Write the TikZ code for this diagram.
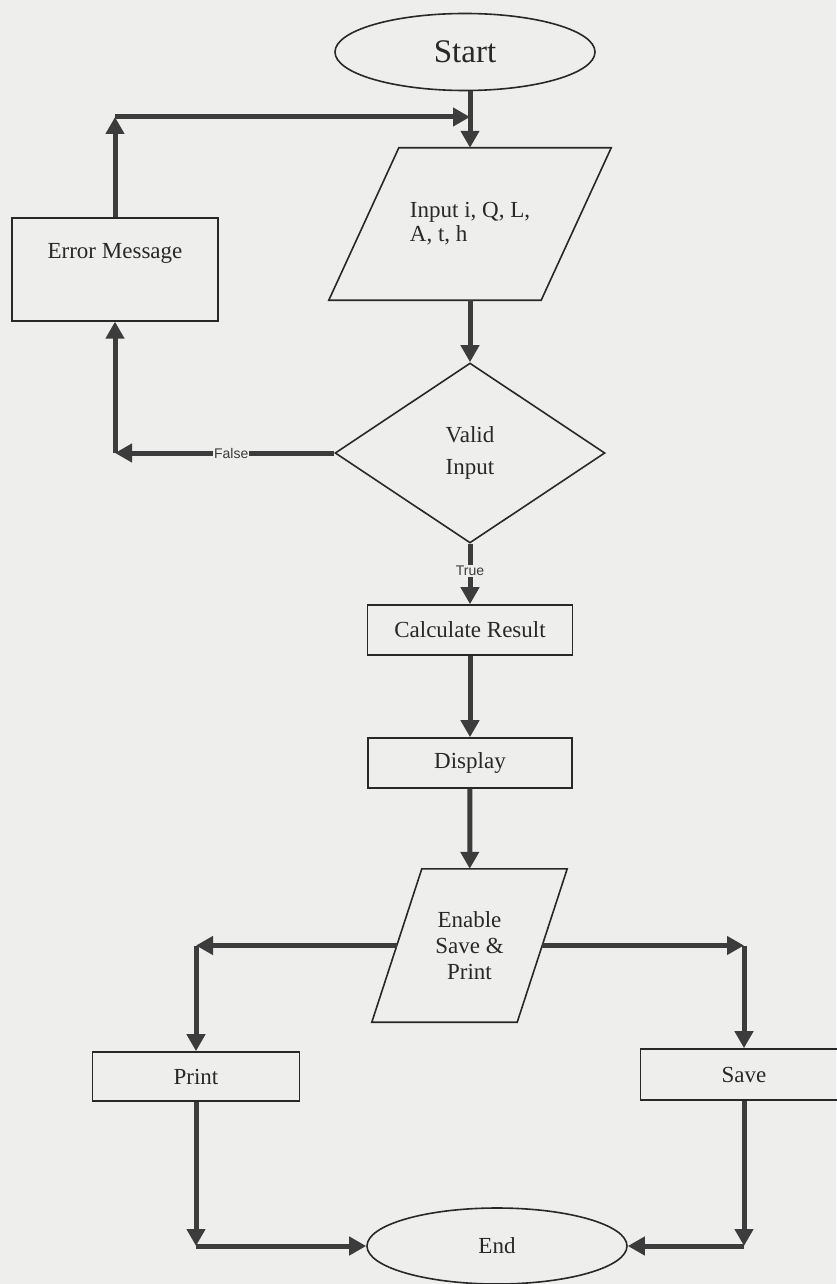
\documentclass[tikz,border=0pt]{standalone}
\usepackage{fontspec}
\setmainfont{Liberation Serif}
\newfontfamily\lblfont{Liberation Sans}
\usetikzlibrary{shapes.geometric,arrows.meta}
\definecolor{bg}{RGB}{238,238,236}
\definecolor{ln}{RGB}{60,60,60}
\definecolor{ol}{RGB}{40,40,40}
\begin{document}
\begin{tikzpicture}[x=1pt,y=-1pt,
  box/.style={draw=ol,line width=1.6pt,rectangle,inner sep=0pt,text=ol,font=\fontsize{23}{27}\selectfont},
  term/.style={box,ellipse},
  para/.style={rectangle,inner sep=0pt,text=ol,font=\fontsize{23}{27}\selectfont},
  outline/.style={draw=ol,line width=1.6pt,line join=miter},
  dec/.style={box,diamond},
  arr/.style={draw=ln,line width=5pt,-{Triangle[width=18pt,length=17pt]}},
  lbl/.style={font=\lblfont\fontsize{14}{16}\selectfont,fill=bg,inner sep=1pt,text=ln}
]
\fill[bg] (0,0) rectangle (836,1284);
\useasboundingbox (0,0) rectangle (836,1284);

\node[term,minimum width=260pt,minimum height=77pt,font=\fontsize{33}{38}\selectfont] (start) at (465,52) {Start};
\node[para,minimum width=282pt,minimum height=152pt,align=left,font=\fontsize{23}{24}\selectfont] (input) at (470,224) {Input i, Q, L,\\A, t, h};
\draw[outline] (input.south west) -- ([xshift=-70pt]input.south east) -- (input.north east) -- ([xshift=70pt]input.north west) -- cycle;
\node[dec,minimum width=270pt,minimum height=180pt,align=center,font=\fontsize{23}{32}\selectfont] (valid) at (470,453) {Valid\\Input};
\node[box,minimum width=206pt,text height=41pt,text depth=62pt,anchor=north] (err) at (115,217) {Error Message};
\node[box,minimum width=205pt,minimum height=50pt] (calc) at (470,630) {Calculate Result};
\node[box,minimum width=204pt,minimum height=50pt] (disp) at (470,763) {Display};
\node[para,minimum width=195pt,minimum height=153pt,align=center,font=\fontsize{23}{26}\selectfont] (enable) at (469.5,945.5) {Enable\\Save \&\\Print};
\draw[outline] (enable.south west) -- ([xshift=-50pt]enable.south east) -- (enable.north east) -- ([xshift=50pt]enable.north west) -- cycle;
\node[box,minimum width=207pt,minimum height=49pt] (print) at (196,1076.5) {Print};
\node[box,minimum width=207pt,minimum height=51pt] (save) at (744,1074.5) {Save};
\node[term,minimum width=260pt,minimum height=76pt] (end) at (497,1246) {End};

\coordinate (c1) at (115,117);

\draw[arr] (input.north |- start.south) -- (input.north);
\draw[arr] (err.north) -- (c1);
\draw[arr] (c1) -- (c1 -| input.north);
\draw[arr] (input.south) -- (valid.north);
\draw[arr] (valid.west) -- node[lbl,pos=0.47] {False} (valid.west -| err.south);
\draw[arr] (valid.west -| err.south) -- (err.south);
\draw[arr] (valid.south) -- node[lbl,pos=0.45] {True} (calc.north);
\draw[arr] (calc) -- (disp);
\draw[arr] (disp) -- (enable);
\draw[arr] ([xshift=25pt]enable.west) -- (enable.west -| print.north);
\draw[arr] (enable.west -| print.north) -- (print.north);
\draw[arr] ([xshift=-25pt]enable.east) -- (enable.east -| save.north);
\draw[arr] (enable.east -| save.north) -- (save.north);
\draw[arr] (print.south) -- (print.south |- end.west);
\draw[arr] (print.south |- end.west) -- (end.west);
\draw[arr] (save.south) -- (save.south |- end.east);
\draw[arr] (save.south |- end.east) -- (end.east);
\end{tikzpicture}
\end{document}
